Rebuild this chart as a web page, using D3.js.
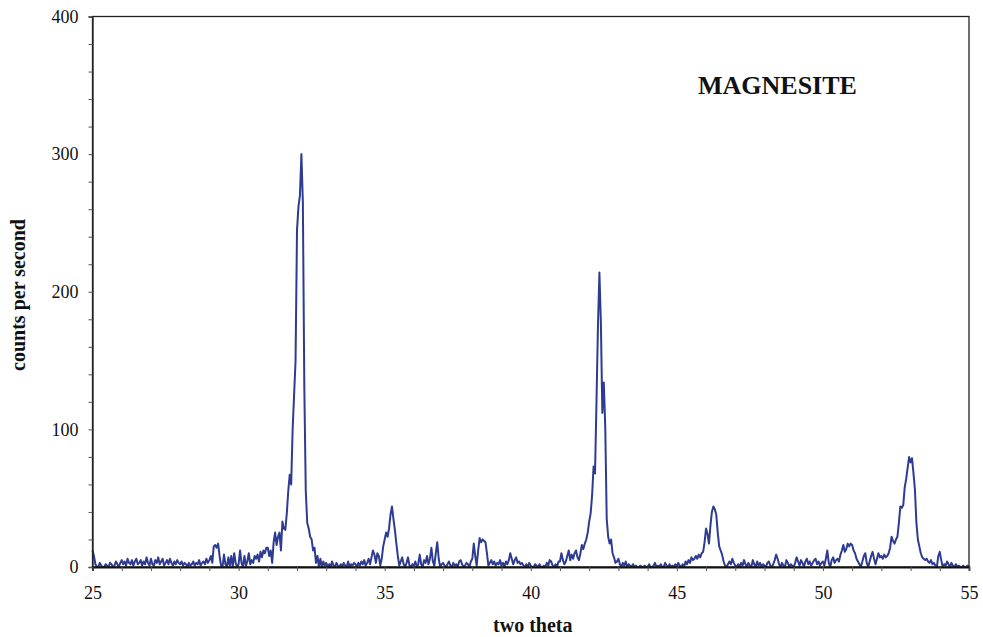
<!DOCTYPE html>
<html>
<head>
<meta charset="utf-8">
<script src="https://cdn.jsdelivr.net/npm/d3@7"></script>
<style>
  html, body { margin: 0; padding: 0; background: #fff; }
  svg { display: block; }
</style>
</head>
<body>
<svg id="chart" width="983" height="637"></svg>
<script>
// ---- Data (two theta from 25 to 55 in 0.05 deg steps; one row per degree) ----
const thetaStart = 25;
const thetaStep = 0.05;
const counts = [
  // 25
  12,8,2,0,0,3,1,0,0,2,1,0,3,2,0,1,4,2,0,3,
  // 26
  5,2,4,1,6,3,2,5,1,4,6,2,3,5,1,4,2,7,3,1,
  // 27
  6,2,1,5,3,7,2,4,6,1,3,5,2,6,3,1,4,2,5,3,
  // 28
  2,4,1,3,2,0,3,1,2,4,1,3,2,5,1,3,4,2,6,3,
  // 29
  5,8,3,15,16,14,17,8,1,0,9,2,0,7,1,8,0,10,3,0,
  // 30
  2,12,3,0,8,1,4,10,2,5,3,8,6,9,4,11,7,12,10,14,
  // 31
  14,8,12,3,18,25,16,22,25,12,33,28,27,39,55,67,60,100,125,150,
  // 32
  245,262,270,300,265,130,55,32,28,22,20,12,14,3,8,0,6,0,4,1,
  // 33
  3,0,2,0,4,1,0,3,1,0,2,0,3,1,0,4,0,2,1,3,
  // 34
  2,0,3,1,4,2,5,1,3,6,2,7,12,9,3,10,8,1,6,15,
  // 35
  20,25,22,28,38,44,35,27,17,8,1,4,7,2,0,3,7,1,0,2,
  // 36
  1,4,0,2,9,2,0,5,3,8,2,6,14,4,1,10,18,6,0,2,
  // 37
  3,1,0,2,4,1,0,3,1,2,0,4,5,2,0,1,3,2,0,4,
  // 38
  6,17,8,1,12,21,18,20,19,18,10,1,3,5,2,4,1,3,2,5,
  // 39
  1,3,0,4,2,5,10,6,2,5,7,3,4,2,3,1,0,2,0,3,
  // 40
  1,0,0,2,1,0,2,0,0,1,0,3,1,5,4,1,0,2,0,4,
  // 41
  4,10,5,2,4,8,12,5,9,6,10,12,7,5,10,16,13,17,20,25,
  // 42
  33,39,52,73,68,120,175,214,178,112,134,102,35,22,17,20,10,7,3,4,
  // 43
  6,2,0,3,1,4,0,2,1,0,2,0,1,0,0,1,0,0,1,0,
  // 44
  0,2,0,0,1,3,0,1,0,2,0,0,3,1,0,2,0,1,0,2,
  // 45
  0,3,1,0,2,0,4,2,5,3,7,5,6,8,6,9,7,10,11,18,
  // 46
  28,24,17,30,40,44,42,38,25,15,12,9,4,1,0,2,4,2,6,3,
  // 47
  1,0,2,0,3,1,5,2,0,3,1,0,5,2,0,4,1,3,0,2,
  // 48
  1,0,3,4,1,0,2,5,9,6,2,0,3,1,0,5,3,0,2,1,
  // 49
  0,3,7,4,1,5,3,0,4,6,2,4,1,3,5,6,2,4,1,3,
  // 50
  4,1,6,12,3,0,5,7,3,5,6,4,9,12,16,11,13,17,15,17,
  // 51
  16,12,10,6,4,2,0,4,8,10,3,0,4,8,11,6,2,6,10,7,
  // 52
  8,6,9,7,8,10,14,22,19,17,20,22,32,44,43,45,58,64,72,80,
  // 53
  76,79,68,56,32,20,15,10,7,6,5,6,4,3,5,2,3,1,0,8,
  // 54
  11,5,0,2,1,4,2,0,3,1,0,2,0,1,0,0,1,0,0,1,
  // 55
  0
];
const xDomain = [25, 55];
const yDomain = [0, 400];
const xTickLabels = [25, 30, 35, 40, 45, 50, 55];
const yTickLabels = [0, 100, 200, 300, 400];
const xMinorTicks = d3.range(25, 56, 1);
const yMinorTicks = d3.range(0, 401, 20);
const chartTitle = "MAGNESITE";
const xTitle = "two theta";
const yTitle = "counts per second";

// ---- Layout ----
const svg = d3.select("#chart");
const mLeft = 92.5, mRight = 969, mTop = 16.5, mBottom = 567;
const fontFam = "'Liberation Serif', 'Times New Roman', Times, serif";

const x = d3.scaleLinear().domain(xDomain).range([mLeft, mRight]);
const y = d3.scaleLinear().domain(yDomain).range([mBottom, mTop]);

const points = counts.map((c, i) => [thetaStart + i * thetaStep, c]);

// Data line
const line = d3.line().x(d => x(d[0])).y(d => y(d[1]));
svg.append("path")
  .datum(points)
  .attr("d", line)
  .attr("fill", "none")
  .attr("stroke", "#2E3B93")
  .attr("stroke-width", 2)
  .attr("stroke-linejoin", "round");

// Frame
svg.append("rect")
  .attr("x", mLeft).attr("y", mTop)
  .attr("width", mRight - mLeft).attr("height", mBottom - mTop)
  .attr("fill", "none").attr("stroke", "#222").attr("stroke-width", 1.3);

// X axis (ticks every degree, labels every 5)
const xAxis = d3.axisBottom(x)
  .tickValues(xMinorTicks)
  .tickSize(4)
  .tickFormat(d => xTickLabels.includes(d) ? d : "");
const gx = svg.append("g").attr("transform", `translate(0,${mBottom})`).call(xAxis);
gx.select(".domain").attr("stroke", "#111").attr("stroke-width", 1.8);
gx.selectAll(".tick line").attr("stroke", "#555").attr("stroke-width", 1);
gx.selectAll(".tick text")
  .attr("font-family", fontFam).attr("font-size", 18).attr("fill", "#111")
  .attr("dy", null).attr("y", 32);

// Y axis (ticks every 20, labels every 100)
const yAxis = d3.axisLeft(y)
  .tickValues(yMinorTicks)
  .tickSize(4)
  .tickFormat(d => yTickLabels.includes(d) ? d : "");
const gy = svg.append("g").attr("transform", `translate(${mLeft},0)`).call(yAxis);
gy.select(".domain").attr("stroke", "#222").attr("stroke-width", 1.3);
gy.selectAll(".tick line").attr("stroke", "#555").attr("stroke-width", 1);
gy.selectAll(".tick text")
  .attr("font-family", fontFam).attr("font-size", 18).attr("fill", "#111")
  .attr("x", -14);

// Titles
svg.append("text")
  .attr("x", (mLeft + mRight) / 2 + 2).attr("y", 632)
  .attr("text-anchor", "middle")
  .attr("font-family", fontFam).attr("font-size", 20).attr("font-weight", "bold")
  .attr("fill", "#111")
  .text(xTitle);

svg.append("text")
  .attr("transform", "translate(25,295) rotate(-90)")
  .attr("text-anchor", "middle")
  .attr("font-family", fontFam).attr("font-size", 20).attr("font-weight", "bold")
  .attr("fill", "#111")
  .text(yTitle);

svg.append("text")
  .attr("x", 698).attr("y", 94)
  .attr("font-family", fontFam).attr("font-size", 26).attr("font-weight", "bold")
  .attr("fill", "#111")
  .text(chartTitle);
</script>
</body>
</html>
